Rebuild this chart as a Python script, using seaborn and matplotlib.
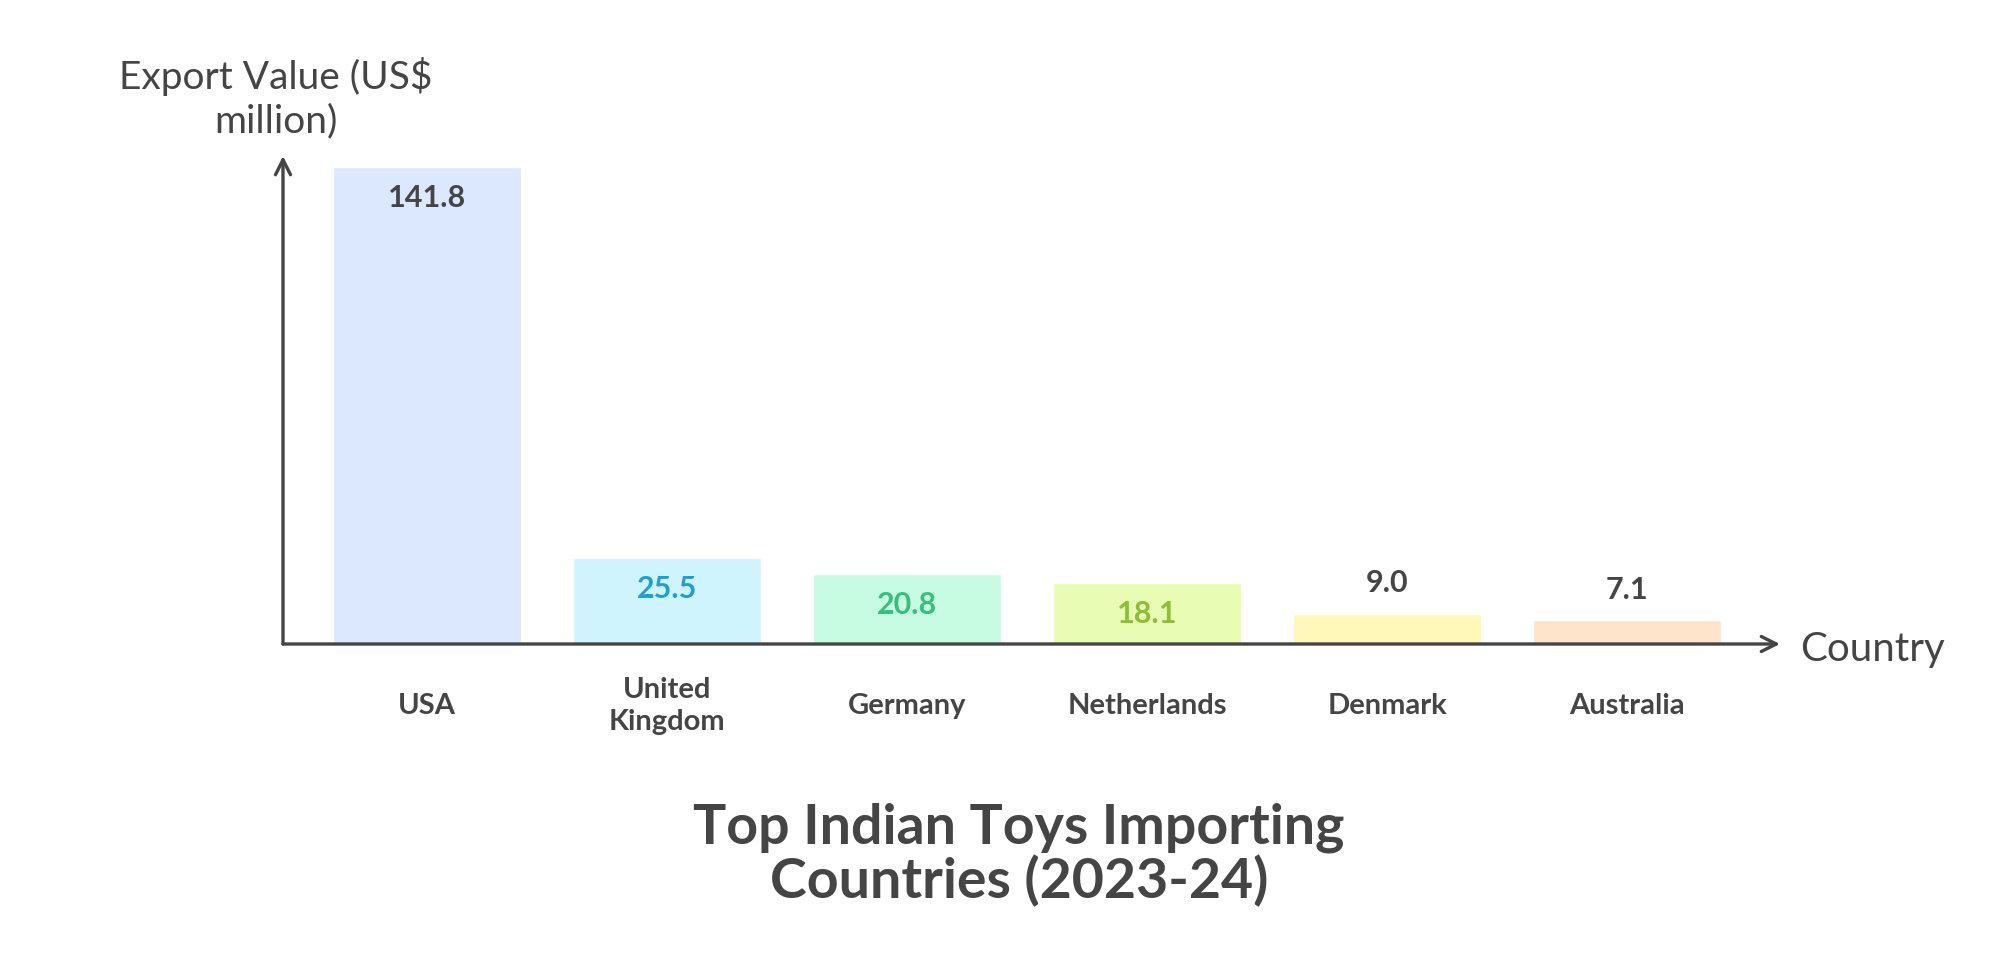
import numpy as np
import pandas as pd
import seaborn as sns
import matplotlib.pyplot as plt

# data
countries = ["USA", "United Kingdom", "Germany", "Netherlands", "Denmark", "Australia"]
tick_labels = ["USA", "United\nKingdom", "Germany", "Netherlands", "Denmark", "Australia"]
export_value = [141.8, 25.5, 20.8, 18.1, 9.0, 7.1]

bar_colors = ["#dbe8fd", "#d0f4fe", "#c8fce2", "#e9fcb3", "#fff8b8", "#ffe4cc"]
label_colors = ["#454545", "#1e9fd8", "#35c07c", "#8cbf33", "#454545", "#454545"]

df = pd.DataFrame({"country": countries, "value": export_value})

sns.set_theme(style="white")
plt.rcParams["font.family"] = ["Lato", "DejaVu Sans"]
dark = "#454545"

fig = plt.figure(figsize=(20.05, 9.63), dpi=100)
ax = fig.add_axes([283 / 2005, 1 - 644 / 963, 1497 / 2005, 488 / 963])

sns.barplot(data=df, x="country", y="value", hue="country", palette=bar_colors,
            legend=False, width=0.78, ax=ax, saturation=1)

ax.set_xlim(-0.6, 5.6375)
ax.set_ylim(0, 145.1)
for s in ax.spines.values():
    s.set_visible(False)
ax.set_xticks([])
ax.set_yticks([])
ax.set_xlabel("")
ax.set_ylabel("")

# axis arrows
arr = dict(arrowstyle="->,head_length=0.9,head_width=0.45", color=dark, lw=2.4,
           shrinkA=0, shrinkB=0)
ax.annotate("", xy=(0, 1), xytext=(0, 0), xycoords="axes fraction",
            arrowprops=arr, annotation_clip=False)
ax.annotate("", xy=(1, 0), xytext=(0, 0), xycoords="axes fraction",
            arrowprops=arr, annotation_clip=False)

# value labels - inside the bar if it's tall enough, else on top
for i, v in enumerate(export_value):
    off = -22 if v > 13 else 22
    ax.annotate(f"{v:.1f}", xy=(i, v), xytext=(0, off), textcoords="offset points",
                ha="center", va="center", fontsize=22, fontweight="bold",
                color=label_colors[i], annotation_clip=False)

# category labels
for i, lab in enumerate(tick_labels):
    ax.annotate(lab, xy=(i, 0), xycoords=ax.get_xaxis_transform(), xytext=(0, -44.6),
                textcoords="offset points", ha="center", va="center", fontsize=21,
                fontweight="bold", color=dark, linespacing=1.3, annotation_clip=False)

fig.text(1800 / 2005, 1 - 650 / 963, "Country", ha="left", va="center", fontsize=29, color=dark)
fig.text(276 / 2005, 1 - 98 / 963, "Export Value (US$\nmillion)", ha="center", va="center",
         fontsize=28, color=dark, linespacing=1.25)
fig.text(1019 / 2005, 1 - 855 / 963, "Top Indian Toys Importing\nCountries (2023-24)",
         ha="center", va="center", fontsize=40, fontweight="bold", color=dark, linespacing=1.05)

fig.savefig("out.png", dpi=100, facecolor="white")
